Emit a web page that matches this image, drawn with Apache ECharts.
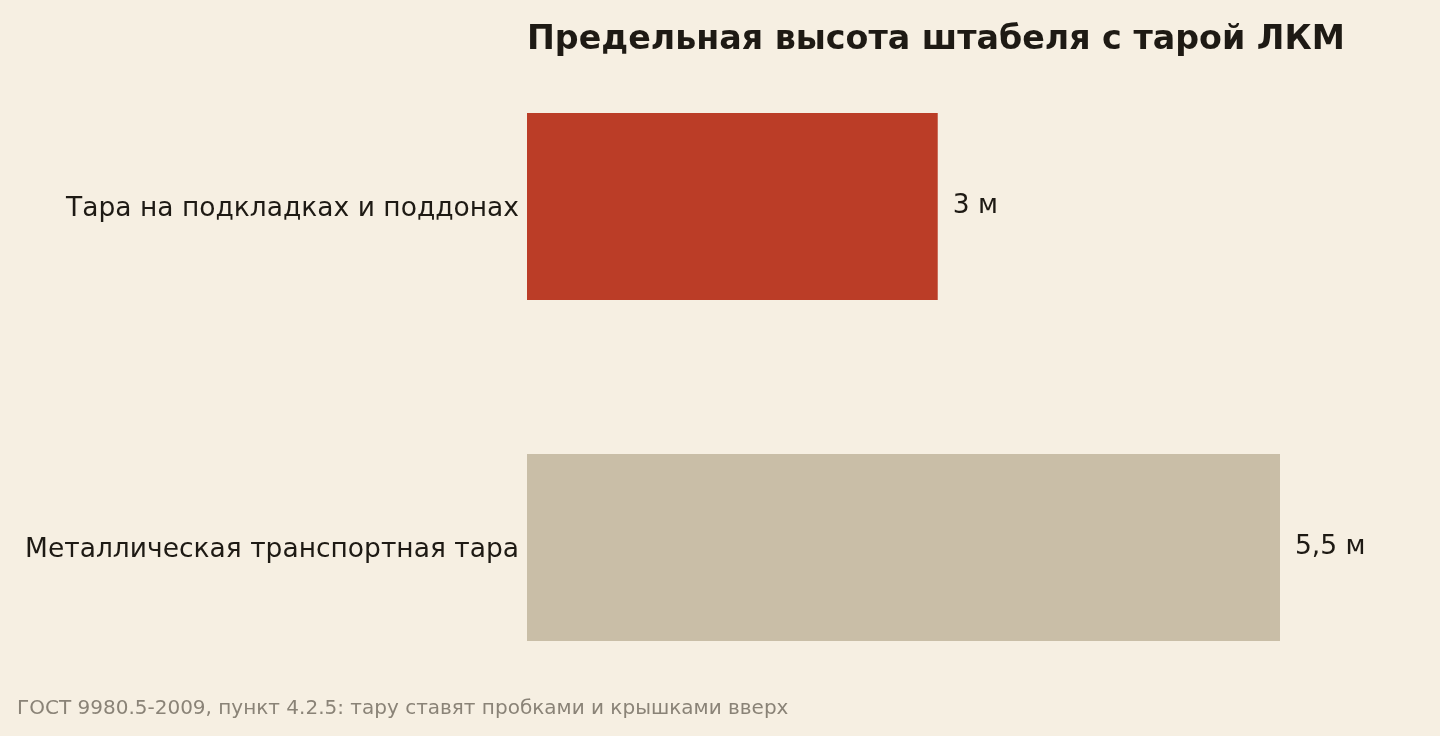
<!DOCTYPE html>
<html><head><meta charset="utf-8">
<script src="https://cdn.jsdelivr.net/npm/echarts@6/dist/echarts.min.js"></script>
<style>html,body{margin:0;padding:0;background:#f6efe2;}#c{width:1440px;height:736px;}</style>
</head><body><div id="c"></div>
<script>
const categories = ['Тара на подкладках и поддонах', 'Металлическая транспортная тара'];
const values = [3, 5.5];
const valueLabels = ['3 м', '5,5 м'];
const barColors = ['#bb3d27', '#c9bea7'];
const titleText = 'Предельная высота штабеля с тарой ЛКМ';
const noteText = 'ГОСТ 9980.5-2009, пункт 4.2.5: тару ставят пробками и крышками вверх';

const chart = echarts.init(document.getElementById('c'));
chart.setOption({
  backgroundColor: '#f6efe2',
  animation: false,
  textStyle: { fontFamily: 'DejaVu Sans' },
  title: [
    { text: titleText, left: 522, top: 19, textStyle: { fontFamily: 'DejaVu Sans', fontWeight: 'bold', fontSize: 33.3, color: '#1e1a14' } },
    { text: noteText, left: 12, top: 694, textStyle: { fontFamily: 'DejaVu Sans', fontWeight: 'normal', fontSize: 20, color: '#8a8377' } }
  ],
  grid: { left: 527, right: 160, top: 36, bottom: 18, containLabel: false },
  xAxis: { type: 'value', min: 0, max: 5.5, show: false },
  yAxis: {
    type: 'category', data: categories, inverse: true,
    axisLine: { show: false }, axisTick: { show: false },
    axisLabel: {
      margin: 8,
      formatter: v => '{a|' + v + '}',
      rich: { a: { fontFamily: 'DejaVu Sans', fontSize: 26.5, color: '#1e1a14', padding: [6, 0, 0, 0] } }
    }
  },
  series: [{
    type: 'bar', barWidth: 187,
    data: values.map((v, i) => ({ value: v, itemStyle: { color: barColors[i] } })),
    label: { show: true, position: 'right', distance: 15, fontFamily: 'DejaVu Sans', fontSize: 26.5, color: '#1e1a14',
      formatter: p => valueLabels[p.dataIndex] }
  }]
});
</script></body></html>
